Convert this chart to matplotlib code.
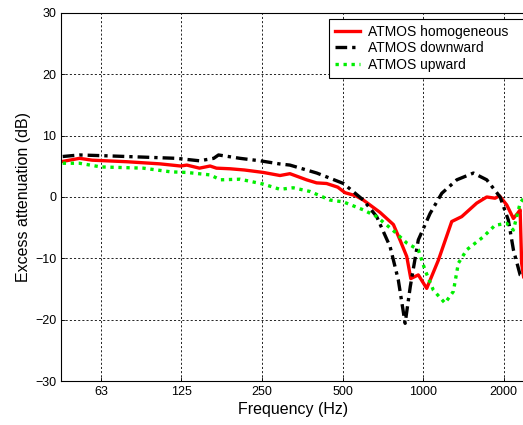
import matplotlib.pyplot as plt

plt.rcParams['font.family'] = ['Liberation Sans', 'DejaVu Sans']

# %%
# Values (frequency in Hz, level in dB)

homog_f = [45, 52, 58, 78, 104, 124, 131, 146, 160, 169, 190, 215, 253,
           292, 318, 367, 400, 436, 480, 511, 560, 598, 690, 775, 820, 869,
           900, 960, 1032, 1141, 1280, 1395, 1587, 1730, 1859, 1930, 2055,
           2176, 2253, 2306, 2336, 2376]
homog_db = [5.8, 6.3, 6.0, 5.75, 5.4, 5.05, 5.2, 4.7, 5.05, 4.7, 4.6, 4.4, 4.0,
            3.5, 3.8, 2.8, 2.3, 2.2, 1.6, 0.7, 0.2, -0.5, -2.5, -4.5, -7.0,
            -9.7, -13.3, -12.7, -14.9, -10.3, -4.0, -3.2, -1.0, 0.0, -0.2,
            0.2, -1.3, -3.5, -2.7, -2.1, -10.8, -13.0]

down_f = [45, 52, 67, 90, 120, 146, 165, 172, 207, 246, 290, 318, 401, 504,
          598, 671, 753, 808, 857, 896, 960, 1062, 1175, 1337, 1542, 1730,
          1941, 2083, 2176, 2306, 2376]
down_db = [6.6, 6.85, 6.7, 6.5, 6.3, 5.9, 6.3, 6.85, 6.3, 5.9, 5.4, 5.2, 3.9,
           2.2, -0.5, -3.2, -8.1, -13.5, -20.6, -14.6, -7.0, -2.7, 0.6, 2.8,
           3.9, 2.8, 0.0, -3.75, -8.6, -12.7, -13.0]

up_f = [45, 52, 62.5, 90, 114, 131, 160, 175, 207, 253, 292, 327, 378, 449,
        504, 598, 671, 775, 869, 960, 1017, 1093, 1208, 1298, 1355, 1457,
        1679, 1859, 2055, 2176, 2306, 2376]
up_db = [5.5, 5.5, 4.9, 4.7, 4.1, 4.0, 3.6, 2.8, 2.9, 2.1, 1.25, 1.5, 0.9,
         -0.5, -0.8, -2.1, -3.2, -5.5, -7.5, -8.6, -11.9, -15.2, -17.3, -15.4,
         -10.8, -8.6, -6.5, -4.6, -4.3, -5.4, -1.0, -0.2]

tick_f = [62.5, 125, 250, 500, 1000, 2000]
tick_lbl = ['63', '125', '250', '500', '1000', '2000']

# %%
# Plot

fig = plt.figure(figsize=(5.23, 4.25), dpi=100)
ax = fig.add_axes([0.1174, 0.1035, 0.886, 0.866])

ax.semilogx(homog_f, homog_db, color='red', lw=2.4, label='ATMOS homogeneous')
ax.semilogx(down_f, down_db, color='black', lw=2.4, ls=(0, (3.5, 1.5, 1, 1.5)),
            label='ATMOS downward')
ax.semilogx(up_f, up_db, color='#00ee00', lw=2.4, ls=(0, (1, 1.4)),
            label='ATMOS upward')

ax.set_xlim(44.5, 2400)
ax.set_ylim(-30, 30)
ax.set_xticks(tick_f)
ax.set_xticklabels(tick_lbl)
ax.minorticks_off()
ax.set_yticks(range(-30, 31, 10))
ax.tick_params(direction='in', labelsize=9, length=3, width=0.6)
ax.grid(True, color='black', ls=(0, (2.5, 2.5)), lw=0.6)
for s in ax.spines.values():
    s.set_linewidth(0.8)

ax.set_xlabel('Frequency (Hz)', fontsize=11.5, labelpad=3)
ax.set_ylabel('Excess attenuation (dB)', fontsize=11.5, labelpad=3)

# legend box runs off the right edge, like in the original
leg = ax.legend(loc='upper left', bbox_to_anchor=(0.5776, 0.83, 0.44, 0.1537),
                mode='expand', fontsize=10, fancybox=False, framealpha=1,
                edgecolor='black', handlelength=1.8, handletextpad=0.6,
                borderpad=0.4, labelspacing=0.2, borderaxespad=0)
leg.get_frame().set_linewidth(0.8)

fig.savefig('out.png', dpi=100)
